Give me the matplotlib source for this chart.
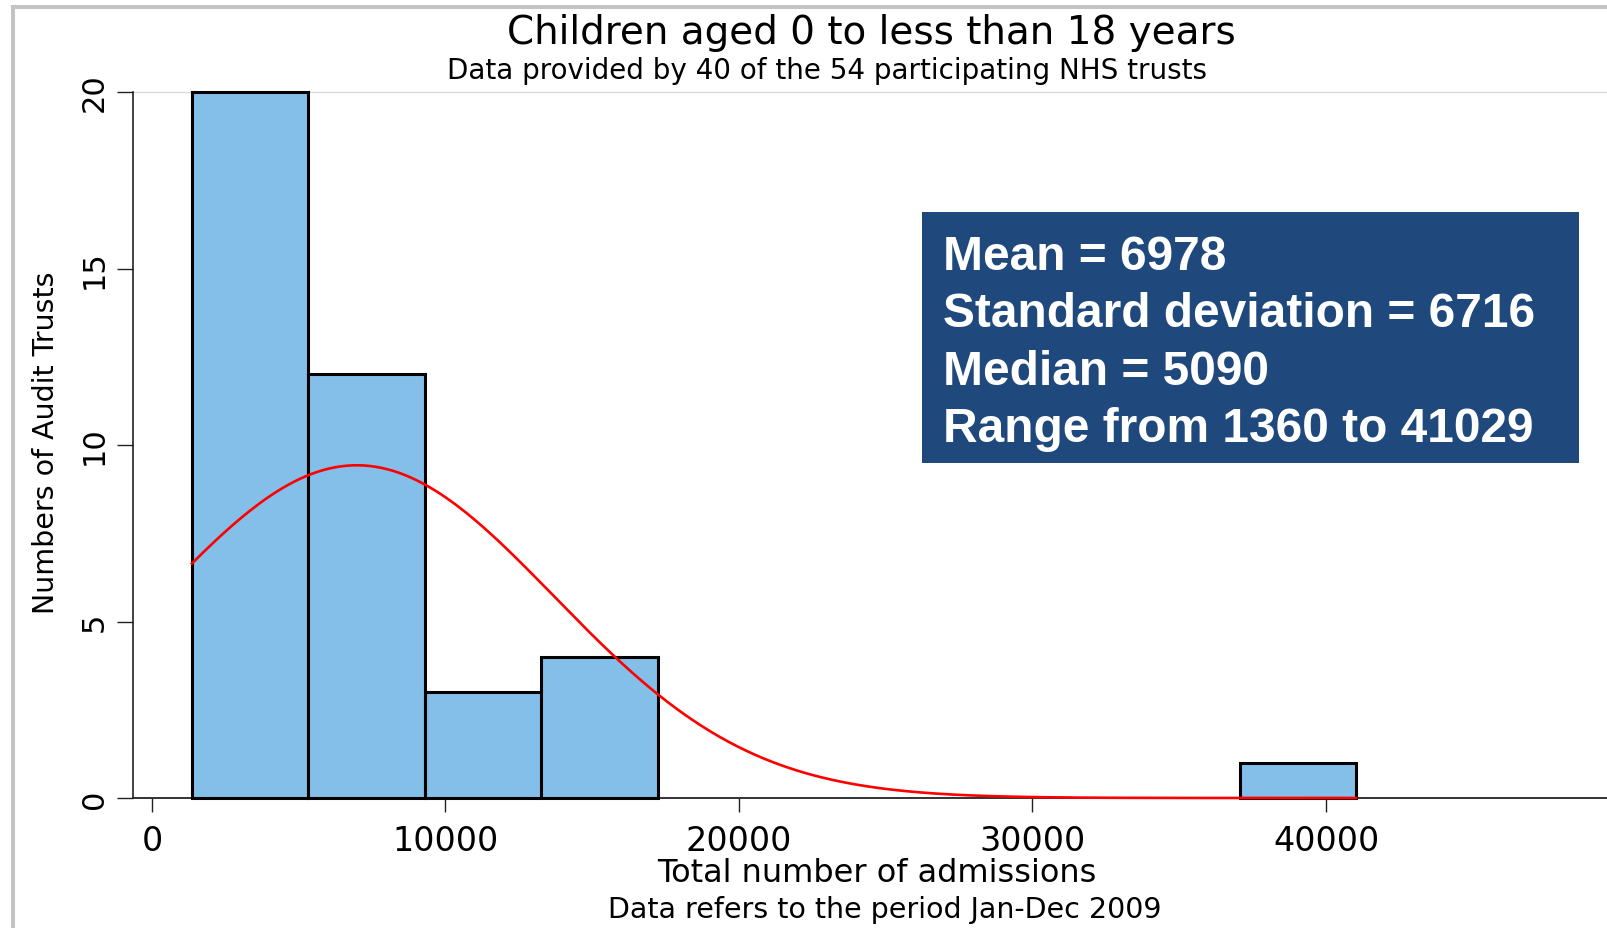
import numpy as np
import matplotlib.pyplot as plt
from matplotlib.lines import Line2D
from matplotlib.patches import Rectangle

# Admissions per trust, children aged 0-17 (10 equal-width bins over the data range)
bin_counts = [20, 12, 3, 4, 0, 0, 0, 0, 0, 1]
data_min = 1360
data_max = 41029
n_trusts = 40
mean_adm = 6978
sd_adm = 6716
median_adm = 5090

x_ticks = [0, 10000, 20000, 30000, 40000]
y_ticks = [0, 5, 10, 15, 20]

title = "Children aged 0 to less than 18 years"
subtitle = "Data provided by 40 of the 54 participating NHS trusts"
x_label = "Total number of admissions"
note = "Data refers to the period Jan-Dec 2009"
y_label = "Numbers of Audit Trusts"
stats_lines = [
    f"Mean = {mean_adm}",
    f"Standard deviation = {sd_adm}",
    f"Median = {median_adm}",
    f"Range from {data_min} to {data_max}",
]

# canvas in pixels
W, H = 1607, 929


def fx(px):
    return px / W


def fy(py):
    return 1 - py / H


plt.rcParams['font.family'] = 'DejaVu Sans'

fig = plt.figure(figsize=(W / 100, H / 100), dpi=100)
fig.patch.set_facecolor('white')

# plot region: y axis at x=133, value 20 at y=93, value 0 at y=799
ax = fig.add_axes([fx(133), fy(799), fx(1607) - fx(133), fy(93) - fy(799)])
ax.set_facecolor('white')

edges = np.linspace(data_min, data_max, len(bin_counts) + 1)
counts = np.array(bin_counts)
widths = np.diff(edges)
keep = counts > 0
ax.bar(edges[:-1][keep], counts[keep], width=widths[keep], align='edge',
       color='#83BFE9', edgecolor='black', linewidth=2.2, zorder=3, clip_on=False)

# normal density scaled to frequencies
xs = np.linspace(data_min, data_max, 400)
bin_w = (data_max - data_min) / len(bin_counts)
ys = n_trusts * bin_w * np.exp(-0.5 * ((xs - mean_adm) / sd_adm) ** 2) / (sd_adm * np.sqrt(2 * np.pi))
ax.plot(xs, ys, color='#FF0000', linewidth=1.9, zorder=4, clip_on=False)

ax.axhline(20, color='#D9D9D9', linewidth=1, zorder=1, clip_on=False)

ax.set_xlim(-647, 49574)
ax.set_ylim(0, 20)
for s in ['top', 'right']:
    ax.spines[s].set_visible(False)
ax.spines['left'].set_bounds(0, 20)
ax.spines['left'].set_color('#111111')
ax.spines['bottom'].set_color('#222222')
ax.spines['left'].set_linewidth(1.1)
ax.spines['bottom'].set_linewidth(1.3)

ax.set_xticks(x_ticks)
ax.set_xticklabels([str(t) for t in x_ticks])
ax.set_yticks(y_ticks)
ax.set_yticklabels([str(t) for t in y_ticks])
ax.tick_params(axis='x', length=10, width=1, pad=8.5, labelsize=24, color='#222222')
ax.tick_params(axis='y', length=11.5, width=1, pad=6, labelsize=22, labelrotation=90, color='#222222')
for lbl in ax.get_yticklabels():
    lbl.set_va('center')

# titles and notes
fig.text(fx(871), fy(44), title, ha='center', va='baseline', fontsize=28)
fig.text(fx(827), fy(79), subtitle, ha='center', va='baseline', fontsize=20)
fig.text(fx(877), fy(882), x_label, ha='center', va='baseline', fontsize=23)
fig.text(fx(885), fy(918), note, ha='center', va='baseline', fontsize=20.5)
fig.text(fx(46), fy(443), y_label, ha='center', va='center', rotation=90, fontsize=20.5)

# grey outer frame (cut off at right and bottom)
frame_c = '#C4C4C4'
fig.add_artist(Line2D([fx(12.5), fx(12.5)], [fy(8), 0], transform=fig.transFigure,
                      color=frame_c, linewidth=2.9))
fig.add_artist(Line2D([fx(12.5), 1], [fy(8), fy(8)], transform=fig.transFigure,
                      color=frame_c, linewidth=2.9))

# summary box
fig.add_artist(Rectangle((fx(922), fy(464)), fx(1579) - fx(922), fy(213) - fy(464),
                         transform=fig.transFigure, facecolor='#1F497D',
                         edgecolor='none', zorder=5))
for i, line in enumerate(stats_lines):
    fig.text(fx(943), fy(270 + i * 57.3), line, ha='left', va='baseline',
             fontsize=34.5, fontweight='bold', color='white',
             family='Liberation Sans', zorder=6)

fig.savefig('out.png', dpi=100, facecolor=fig.get_facecolor())
